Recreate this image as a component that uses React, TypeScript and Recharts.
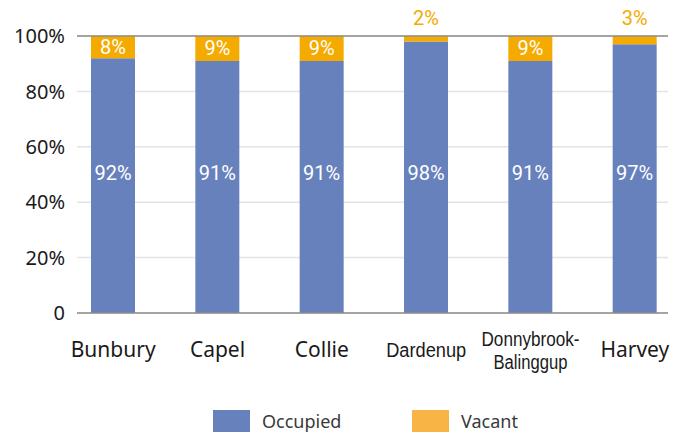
import React from "react";
import {
  BarChart,
  Bar,
  XAxis,
  YAxis,
  CartesianGrid,
  ReferenceLine,
  LabelList,
} from "recharts";

const categories = [
  "Bunbury",
  "Capel",
  "Collie",
  "Dardenup",
  "Donnybrook-Balinggup",
  "Harvey",
];
const occupied = [92, 91, 91, 98, 91, 97];
const vacant = [8, 9, 9, 2, 9, 3];
const yTicks = [0, 20, 40, 60, 80, 100];

const BLUE = "#6781bd";
const ORANGE = "#f5aa00";
const ORANGE_LEGEND = "#f8b445";
const AXIS = "#8c8c8c";
const FONT = "'Noto Sans', 'Open Sans', sans-serif";
const NARROW_FONT = "'Liberation Sans', Arial, sans-serif";

const data = categories.map((name, i) => ({
  name,
  occupied: occupied[i],
  vacant: vacant[i],
}));

// condensed category names in the original
const narrow: Record<string, number> = {
  Dardenup: 80,
  "Donnybrook-": 98,
  Balinggup: 74,
};

function XTick({ x, y, payload }: any) {
  const lines: string[] = String(payload.value).includes("-")
    ? [payload.value.split("-")[0] + "-", payload.value.split("-")[1]]
    : [payload.value];
  const twoLines = lines.length > 1;
  return (
    <g>
      {lines.map((line, i) => (
        <text
          key={line}
          x={x}
          y={y + (twoLines ? 31 : 42) + i * 23}
          textAnchor="middle"
          fontSize={narrow[line] ? 20 : 21}
          fontFamily={narrow[line] ? NARROW_FONT : FONT}
          fill="#1a1a1a"
          textLength={narrow[line]}
          lengthAdjust={narrow[line] ? "spacingAndGlyphs" : undefined}
        >
          {line}
        </text>
      ))}
    </g>
  );
}

function OccupiedLabel({ x, y, width, height, value }: any) {
  // labels sit at the middle of the full 100% stack
  const bottom = y + height;
  const cy = bottom - (height / value) * 50 - 2;
  return (
    <text
      x={x + width / 2}
      y={cy}
      textAnchor="middle"
      dominantBaseline="central"
      fontSize={20}
      fontFamily="Roboto, sans-serif"
      fill="#ffffff"
    >
      {value}%
    </text>
  );
}

function VacantLabel({ x, y, width, height, value }: any) {
  const inside = value >= 5;
  return (
    <text
      x={x + width / 2}
      y={inside ? y + height / 2 : y - 18}
      textAnchor="middle"
      dominantBaseline="central"
      fontSize={20}
      fontFamily="Roboto, sans-serif"
      fill={inside ? "#ffffff" : ORANGE}
    >
      {value}%
    </text>
  );
}

export default function App() {
  return (
    <div
      style={{
        position: "absolute",
        left: 0,
        top: 0,
        width: 682,
        height: 437,
        background: "#fff",
        fontFamily: FONT,
      }}
    >
      <BarChart
        width={682}
        height={437}
        data={data}
        margin={{ top: 36, right: 14, bottom: 64, left: 12 }}
      >
        <CartesianGrid vertical={false} stroke="#e4e4e4" strokeWidth={1.5} />
        <XAxis
          dataKey="name"
          height={60}
          padding={{ left: -16, right: -19 }}
          axisLine={{ stroke: AXIS, strokeWidth: 1.5 }}
          tickLine={false}
          tickSize={0}
          tick={<XTick />}
          interval={0}
        />
        <YAxis
          width={65}
          domain={[0, 100]}
          ticks={yTicks}
          axisLine={false}
          tickLine={false}
          tickSize={0}
          tickMargin={12}
          tick={{ fill: "#1a1a1a", fontSize: 20, fontFamily: FONT }}
          tickFormatter={(v: number) => (v === 0 ? "0" : `${v}%`)}
        />
        <ReferenceLine y={100} stroke={AXIS} strokeWidth={1.5} />
        <Bar
          dataKey="occupied"
          stackId="a"
          fill={BLUE}
          barSize={44}
          isAnimationActive={false}
        >
          <LabelList dataKey="occupied" content={<OccupiedLabel />} />
        </Bar>
        <Bar
          dataKey="vacant"
          stackId="a"
          fill={ORANGE}
          barSize={44}
          isAnimationActive={false}
        >
          <LabelList dataKey="vacant" content={<VacantLabel />} />
        </Bar>
      </BarChart>
      {[
        { label: "Occupied", color: BLUE, left: 213 },
        { label: "Vacant", color: ORANGE_LEGEND, left: 412 },
      ].map((item) => (
        <div
          key={item.label}
          style={{
            position: "absolute",
            left: item.left,
            top: 410,
            display: "flex",
            alignItems: "center",
            height: 22,
          }}
        >
          <div style={{ width: 37, height: 22, background: item.color }} />
          <span
            style={{
              marginLeft: 12,
              fontSize: 18,
              color: "#3a3a3a",
              fontFamily: FONT,
            }}
          >
            {item.label}
          </span>
        </div>
      ))}
    </div>
  );
}
